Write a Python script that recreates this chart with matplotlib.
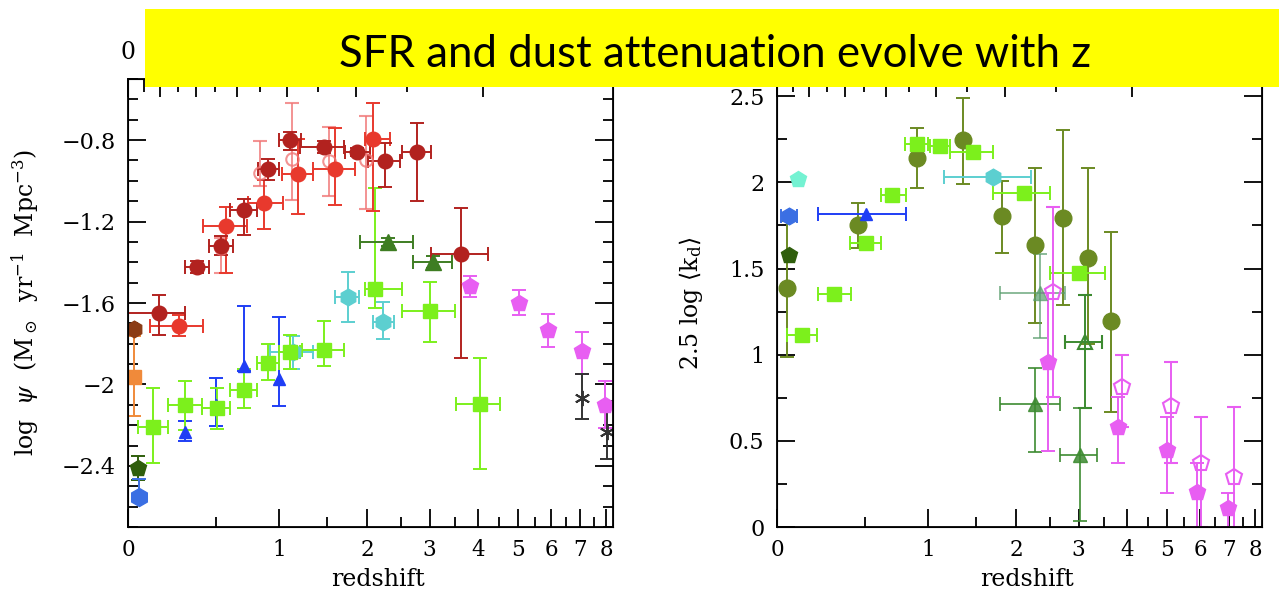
import numpy as np
import matplotlib.pyplot as plt
from matplotlib.patches import Rectangle
from matplotlib.ticker import FuncFormatter

plt.rcParams['font.family'] = 'DejaVu Serif'
plt.rcParams['mathtext.fontset'] = 'dejavuserif'

# ---------------- left panel: log SFR density ----------------
# dark red filled circles (IR)
dkred_z = [0.155, 0.375, 0.533, 0.704, 0.905, 1.106, 1.462, 1.86, 2.26, 2.77, 3.62]
dkred_y = [-1.649, -1.422, -1.318, -1.145, -0.943, -0.802, -0.834, -0.86, -0.905, -0.86, -1.359]
dkred_ylo = [0.108, 0.03, 0.045, 0.12, 0.053, 0.045, 0.03, 0.02, 0.124, 0.238, 0.509]
dkred_yhi = [0.086, 0.03, 0.045, 0.058, 0.05, 0.043, 0.03, 0.02, 0.091, 0.145, 0.226]
dkred_zlo = [0.0, 0.30, 0.449, 0.599, 0.82, 1.005, 1.205, 1.71, 2.02, 2.52, 3.03]
dkred_zhi = [0.30, 0.453, 0.618, 0.806, 1.005, 1.212, 1.698, 2.04, 2.49, 3.02, 4.22]

# red filled circles
red_z = [0.266, 0.567, 0.871, 1.182, 1.59, 2.09]
red_y = [-1.711, -1.222, -1.108, -0.966, -0.943, -0.797]
red_ylo = [0.05, 0.233, 0.127, 0.195, 0.177, 0.35]
red_yhi = [0.05, 0.094, 0.112, 0.17, 0.204, 0.178]
red_zlo = [0.106, 0.413, 0.738, 1.027, 1.344, 1.97]
red_zhi = [0.413, 0.73, 1.036, 1.337, 1.84, 2.33]

# light red open circles
ltred_z = [0.533, 0.835, 1.128, 1.52, 1.99]
ltred_y = [-1.33, -0.963, -0.892, -0.905, -0.897]
ltred_ylo = [0.125, 0.06, 0.203, 0.17, 0.243]
ltred_yhi = [0.05, 0.157, 0.273, 0.17, 0.217]

# lime squares (UV)
lime_z = [0.124, 0.30, 0.503, 0.704, 0.90, 1.106, 1.46, 2.11, 3.01, 4.04]
lime_y = [-2.207, -2.10, -2.116, -2.025, -1.893, -1.843, -1.83, -1.533, -1.637, -2.094]
lime_ylo = [0.178, 0.124, 0.104, 0.091, 0.083, 0.08, 0.08, 0.09, 0.153, 0.323]
lime_yhi = [0.19, 0.116, 0.099, 0.099, 0.093, 0.085, 0.143, 0.496, 0.14, 0.222]
lime_zlo = [0.048, 0.204, 0.403, 0.60, 0.806, 1.0, 1.22, 1.97, 2.52, 3.51]
lime_zhi = [0.204, 0.403, 0.598, 0.806, 1.005, 1.2, 1.70, 2.52, 3.5, 4.53]

# cyan hexagons
cyan_z = [1.138, 1.754, 2.23]
cyan_y = [-1.843, -1.571, -1.695]
cyan_ylo = [0.083, 0.124, 0.083]
cyan_yhi = [0.083, 0.121, 0.099]
cyan_zlo = [0.92, 1.59, 2.09]
cyan_zhi = [1.34, 1.89, 2.39]

# blue triangles
btri_z = [0.30, 0.5, 0.704, 1.005]
btri_y = [-2.232, -2.10, -1.908, -1.972]
btri_ylo = [0.044, 0.104, 0.025, 0.133]
btri_yhi = [0.052, 0.132, 0.292, 0.302]

# dark green triangles
gtri_z = [2.31, 3.07]
gtri_y = [-1.30, -1.40]
gtri_zlo = [1.9, 2.71]
gtri_zhi = [2.7, 3.44]

# magenta pentagons
mag_z = [3.82, 5.03, 5.9, 7.05, 7.96]
mag_y = [-1.516, -1.598, -1.731, -1.835, -2.10]
mag_ylo = [0.055, 0.06, 0.084, 0.113, 0.115]
mag_yhi = [0.049, 0.06, 0.077, 0.095, 0.116]

# black asterisks
ast_z = [7.05, 8.03]
ast_y = [-2.067, -2.232]
ast_ylo = [0.104, 0.132]
ast_yhi = [0.119, 0.152]

# single local points
orange_z, orange_y, orange_ylo, orange_yhi = [0.028], [-1.963], [0.194], [0.203]
brown_z, brown_y = [0.028], [-1.728]
dgpent_z, dgpent_y = [0.049], [-2.41]
bhex_z, bhex_y, bhex_ylo, bhex_yhi = [0.053], [-2.551], [0.025], [0.088]

# ---------------- right panel: 2.5 log <k_d> ----------------
olive_z = [0.049, 0.453, 0.905, 1.355, 1.817, 2.27, 2.73, 3.17, 3.64]
olive_y = [1.385, 1.753, 2.14, 2.245, 1.806, 1.636, 1.796, 1.564, 1.197]
olive_ylo = [0.397, 0.131, 0.17, 0.255, 0.213, 0.451, 0.51, 0.5, 0.528]
olive_yhi = [0.39, 0.13, 0.174, 0.243, 0.203, 0.445, 0.509, 0.517, 0.516]

rlime_z = [0.123, 0.30, 0.505, 0.70, 0.905, 1.115, 1.465, 2.117, 3.01]
rlime_y = [1.114, 1.351, 1.647, 1.926, 2.222, 2.212, 2.177, 1.941, 1.473]
rlime_zlo = [0.048, 0.206, 0.398, 0.613, 0.80, 1.02, 1.21, 1.70, 2.51]
rlime_zhi = [0.204, 0.403, 0.61, 0.81, 1.0, 1.21, 1.70, 2.51, 3.52]

rbhex_z, rbhex_y, rbhex_zlo, rbhex_zhi = [0.057], [1.806], [0.019], [0.098]
rbtri_z, rbtri_y, rbtri_zlo, rbtri_zhi = [0.505], [1.816], [0.206], [0.807]
aqua_z, aqua_y = [0.103], [2.019]
rdg_z, rdg_y = [0.057], [1.578]
rcyan_z, rcyan_y, rcyan_zlo, rcyan_zhi = [1.696], [2.034], [1.154], [2.22]

sgtri_z = [2.27, 3.03]
sgtri_y = [0.713, 0.418]
sgtri_ylo = [0.276, 0.381]
sgtri_yhi = [0.211, 0.27]
sgtri_zlo = [1.79, 2.67]
sgtri_zhi = [2.67, 3.36]

ltri_z, ltri_y, ltri_ylo, ltri_yhi = [2.35], [1.36], [0.266], [0.223]
ltri_zlo, ltri_zhi = [1.79], [2.76]
otri_z, otri_y, otri_ylo, otri_yhi = [3.12], [1.075], [0.385], [0.27]
otri_zlo, otri_zhi = [2.76], [3.46]

rmag_z = [2.48, 3.79, 5.0, 5.88, 6.96]
rmag_y = [0.959, 0.582, 0.447, 0.205, 0.108]
rmag_ylo = [0.516, 0.212, 0.248, 0.205, 0.108]
rmag_yhi = [0.40, 0.174, 0.193, 0.165, 0.091]

omag_z = [2.56, 3.88, 5.11, 6.01, 7.17]
omag_y = [1.361, 0.81, 0.702, 0.37, 0.292]
omag_ylo = [0.605, 0.232, 0.332, 0.37, 0.292]
omag_yhi = [0.497, 0.188, 0.253, 0.27, 0.406]

z_major = list(range(9))
z_minor = [0.5, 1.5, 2.5, 3.5, 4.5, 5.5, 6.5, 7.5]
# lookback time (Gyr) on the top axis; only the "0" label shows beside the banner
tlook_major = [0, 2, 4, 6, 8, 10, 12]
tlook_minor = [1, 3, 5, 7, 9, 11]

W, H = 1279, 589
XMAX = 0.968


def lx(z):
    return np.log10(1 + np.asarray(z, float))


def draw(ax, z, y, ylo=None, yhi=None, zlo=None, zhi=None, open_=False, **kw):
    x = lx(z)
    xerr = None
    if zlo is not None:
        xerr = [x - lx(zlo), lx(zhi) - x]
    yerr = None
    if ylo is not None:
        yerr = [ylo, yhi]
    c = kw.pop('color')
    if open_:
        kw.update(mfc='none', mec=c, mew=1.5)
    ax.errorbar(x, y, xerr=xerr, yerr=yerr, color=c, ls='none', capsize=5,
                elinewidth=1.4, capthick=1.4, **kw)


# lookback time -> redshift (H0=70, Om=0.3)
zg = np.linspace(0, 30, 60001)
ig = 1 / ((1 + zg) * np.sqrt(0.3 * (1 + zg) ** 3 + 0.7))
tl = 977.8 / 70 * np.concatenate([[0], np.cumsum(0.5 * (ig[1:] + ig[:-1]) * np.diff(zg))])


def z_of_t(t):
    return np.interp(t, tl, zg)


def setup(ax, ylim, ymaj, ymin, top_label):
    ax.set_xlim(0, XMAX)
    ax.set_ylim(*ylim)
    ax.set_xticks(lx(z_major), [str(z) for z in z_major])
    ax.set_xticks(lx(z_minor), minor=True)
    ax.set_yticks(ymaj)
    ax.set_yticks(ymin, minor=True)
    ax.yaxis.set_major_formatter(FuncFormatter(lambda v, p: ('%g' % v).replace('-', '\u2212')))
    ax.tick_params(which='both', direction='in', right=True, top=False, width=1.3)
    ax.tick_params(which='major', length=13)
    ax.tick_params(which='minor', length=7)
    ax.tick_params(axis='x', labelsize=15.5, pad=9)
    ax.tick_params(axis='y', labelsize=16, pad=9)
    for s in ax.spines.values():
        s.set_linewidth(1.3)
    ax.set_xlabel('redshift', fontsize=17)
    ax.xaxis.set_label_coords(0.515, -0.092)
    top = ax.twiny()
    top.set_xlim(0, XMAX)
    labels = [''] * len(tlook_major)
    if top_label:
        labels[0] = '0'
    top.set_xticks(lx(z_of_t(tlook_major)), labels)
    top.set_xticks(lx(z_of_t(tlook_minor)), minor=True)
    top.tick_params(which='both', direction='in', width=1.3, labelsize=17, pad=11)
    top.tick_params(which='major', length=13)
    top.tick_params(which='minor', length=9)


fig = plt.figure(figsize=(W / 100, H / 100), dpi=100)
axl = fig.add_axes([128 / W, 62 / H, 485 / W, 448 / H])
axr = fig.add_axes([777 / W, 62 / H, 485 / W, 448 / H])

# left panel
draw(axl, cyan_z, cyan_y, cyan_ylo, cyan_yhi, cyan_zlo, cyan_zhi, color='#5ccfd0', marker='h', ms=12)
draw(axl, btri_z, btri_y, btri_ylo, btri_yhi, color='#1f3ef5', marker='^', ms=9)
draw(axl, lime_z, lime_y, lime_ylo, lime_yhi, lime_zlo, lime_zhi, color='#7cf01c', marker='s', ms=9.5)
draw(axl, gtri_z, gtri_y, [0.02, 0.03], [0.02, 0.03], gtri_zlo, gtri_zhi, color='#3e7d22', marker='^', ms=11)
draw(axl, ltred_z, ltred_y, ltred_ylo, ltred_yhi, color='#f07878', marker='o', ms=9, open_=True, alpha=0.8)
draw(axl, red_z, red_y, red_ylo, red_yhi, red_zlo, red_zhi, color='#e8392d', marker='o', ms=10.5)
draw(axl, dkred_z, dkred_y, dkred_ylo, dkred_yhi, dkred_zlo, dkred_zhi, color='#b2221f', marker='o', ms=10.5)
draw(axl, mag_z, mag_y, mag_ylo, mag_yhi, color='#e85ef2', marker='p', ms=12)
draw(axl, ast_z, ast_y, ast_ylo, ast_yhi, color='#333333', marker=(6, 2, 0), ms=11, mew=1.4)
draw(axl, orange_z, orange_y, orange_ylo, orange_yhi, color='#f08a3a', marker='s', ms=9.5)
draw(axl, brown_z, brown_y, [0.02], [0.02], color='#8b3c16', marker='h', ms=12)
draw(axl, dgpent_z, dgpent_y, [0.06], [0.06], color='#2f5e0c', marker='p', ms=12)
draw(axl, bhex_z, bhex_y, bhex_ylo, bhex_yhi, color='#3b6fe3', marker='h', ms=13)

setup(axl, (-2.7, -0.5), np.arange(-2.4, -0.7, 0.4), np.arange(-2.7, -0.45, 0.1), True)
axl.set_ylabel(r'log  $\psi$  (M$_\odot$  yr$^{-1}$  Mpc$^{-3}$)', fontsize=17)
axl.yaxis.set_label_coords(-0.179, 0.5)

# right panel
draw(axr, olive_z, olive_y, olive_ylo, olive_yhi, color='#6b8a23', marker='o', ms=12)
draw(axr, rlime_z, rlime_y, zlo=rlime_zlo, zhi=rlime_zhi, color='#7cf01c', marker='s', ms=9.5)
draw(axr, rbhex_z, rbhex_y, zlo=rbhex_zlo, zhi=rbhex_zhi, color='#3b6fe3', marker='h', ms=12)
draw(axr, rbtri_z, rbtri_y, zlo=rbtri_zlo, zhi=rbtri_zhi, color='#1f3ef5', marker='^', ms=9)
draw(axr, aqua_z, aqua_y, color='#74f2d2', marker='p', ms=12)
draw(axr, rdg_z, rdg_y, color='#2f5e0c', marker='p', ms=12)
draw(axr, rcyan_z, rcyan_y, zlo=rcyan_zlo, zhi=rcyan_zhi, color='#5ccfd0', marker='h', ms=12)
draw(axr, ltri_z, ltri_y, ltri_ylo, ltri_yhi, ltri_zlo, ltri_zhi, color='#5a9e6e', marker='^', ms=10, alpha=0.7)
draw(axr, sgtri_z, sgtri_y, sgtri_ylo, sgtri_yhi, sgtri_zlo, sgtri_zhi, color='#3c8a30', marker='^', ms=10, alpha=0.85)
draw(axr, otri_z, otri_y, otri_ylo, otri_yhi, otri_zlo, otri_zhi, color='#3c8a30', marker='^', ms=10, open_=True)
draw(axr, omag_z, omag_y, omag_ylo, omag_yhi, color='#e85ef2', marker='p', ms=12, open_=True)
draw(axr, rmag_z, rmag_y, rmag_ylo, rmag_yhi, color='#e85ef2', marker='p', ms=12)

setup(axr, (0, 2.6), [0, 0.5, 1, 1.5, 2, 2.5], np.arange(0, 2.6, 0.25), False)
axr.set_ylabel(r'2.5 log $\langle$k$_{\rm d}\rangle$', fontsize=17)
axr.yaxis.set_label_coords(-0.148, 0.5)

# yellow title banner
fig.add_artist(Rectangle((145 / W, 1 - 87 / H), (W - 145) / W, 78 / H, transform=fig.transFigure,
                         facecolor='#ffff00', edgecolor='none', zorder=10))
fig.text(715 / W, 1 - 66.7 / H, 'SFR and dust attenuation evolve with z', fontsize=31.5,
         family='Lato', ha='center', va='baseline', zorder=11)

fig.savefig('out.png', dpi=100)
